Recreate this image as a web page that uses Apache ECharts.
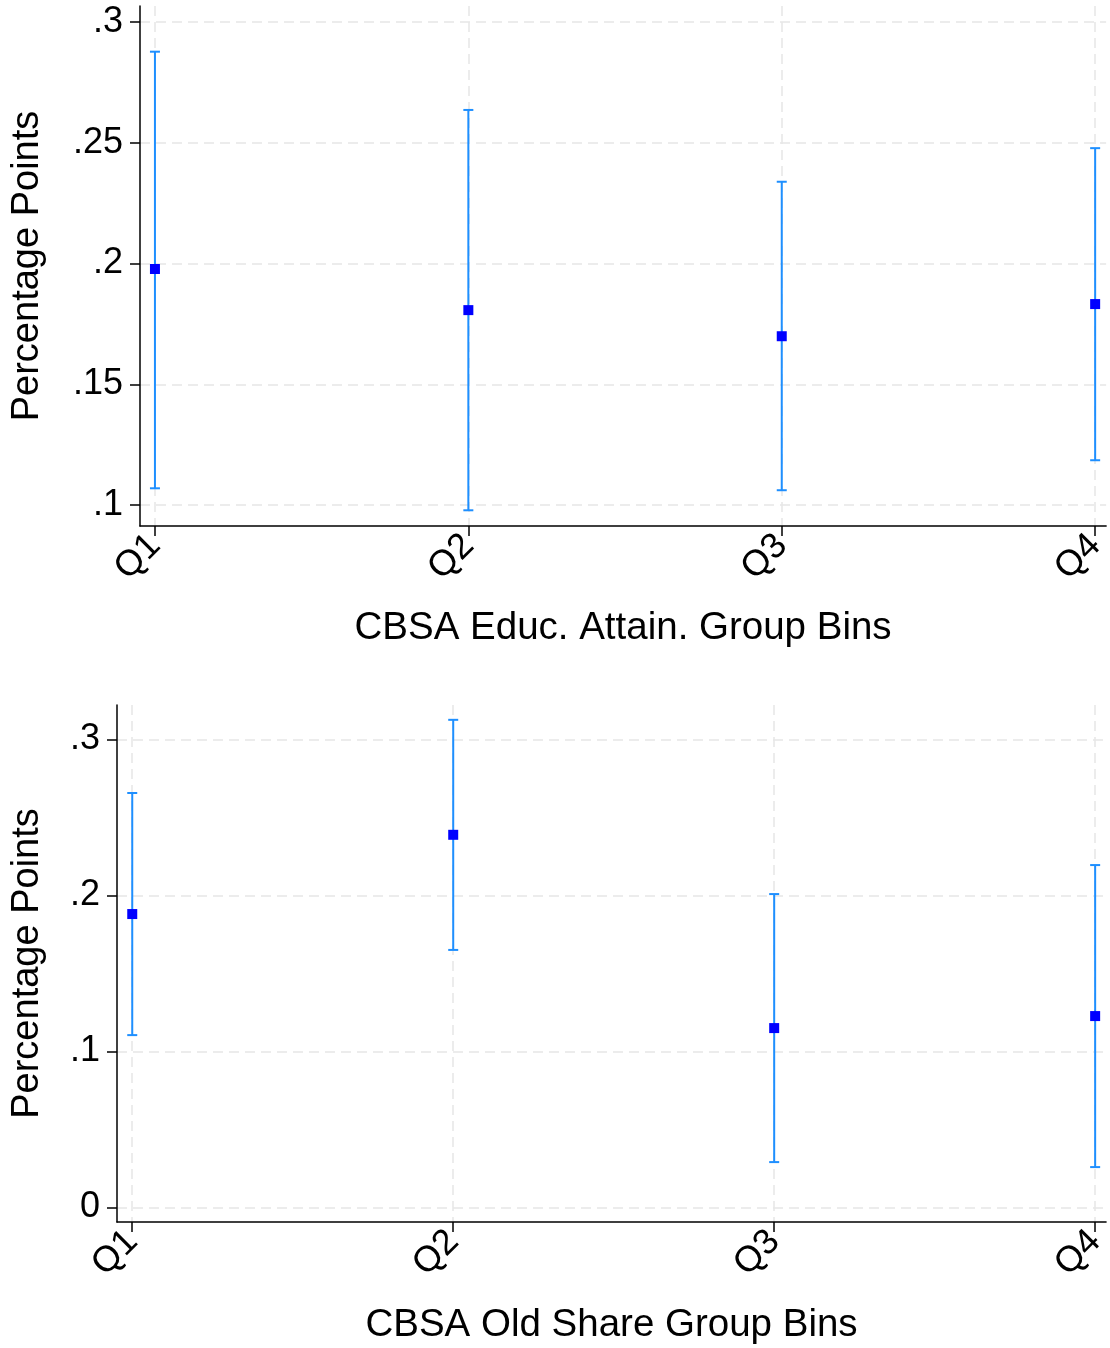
<!DOCTYPE html>
<html><head><meta charset="utf-8">
<script src="https://cdn.jsdelivr.net/npm/echarts@6/dist/echarts.min.js"></script>
<style>html,body{margin:0;padding:0;background:#fff}#c{width:1110px;height:1348px}</style>
</head><body><div id="c"></div>
<script>
var categories = ['Q1','Q2','Q3','Q4'];
// Panel 1: CBSA Educ. Attain. Group Bins
var est1 = [0.1977, 0.1807, 0.1699, 0.1832];
var hi1  = [0.2876, 0.2635, 0.2338, 0.2477];
var lo1  = [0.1070, 0.0979, 0.1062, 0.1186];
var ticks1 = [0.1, 0.15, 0.2, 0.25, 0.3];
var tickLabels1 = ['.1', '.15', '.2', '.25', '.3'];
// Panel 2: CBSA Old Share Group Bins
var est2 = [0.1880, 0.2388, 0.1149, 0.1226];
var hi2  = [0.2656, 0.3125, 0.2008, 0.2194];
var lo2  = [0.1104, 0.1650, 0.0290, 0.0258];
var ticks2 = [0, 0.1, 0.2, 0.3];
var tickLabels2 = ['0', '.1', '.2', '.3'];
var xTitles = ['CBSA Educ. Attain. Group Bins', 'CBSA Old Share Group Bins'];
var yTitle = 'Percentage Points';

var FONT = '"Liberation Sans", Arial, sans-serif';
var gridLine = {show: true, lineStyle: {color: '#e6e6e6', width: 1.5, type: [10, 6]}};

function xAxis(idx, gap, min, max) {
  return {
    type: 'value', gridIndex: idx, min: min, max: max,
    name: xTitles[idx], nameLocation: 'middle', nameGap: gap,
    nameTextStyle: {fontFamily: FONT, fontSize: 38.5, color: '#000'},
    axisLine: {show: true, onZero: false, lineStyle: {color: '#000', width: 1.5}},
    axisTick: {show: true, length: 10, lineStyle: {color: '#000', width: 1.5}, customValues: [1,2,3,4]},
    axisLabel: {customValues: [1,2,3,4], rotate: 45, fontFamily: FONT, fontSize: 36, color: '#000', margin: 14,
      formatter: function (v) { return categories[Math.round(v) - 1]; }},
    splitLine: gridLine
  };
}
function yAxis(idx, min, max, ticks, labels, gap) {
  return {
    type: 'value', gridIndex: idx, min: min, max: max,
    name: yTitle, nameLocation: 'middle', nameGap: gap,
    nameTextStyle: {fontFamily: FONT, fontSize: 38, color: '#000'},
    axisLine: {show: true, onZero: false, lineStyle: {color: '#000', width: 1.5}},
    axisTick: {show: true, length: 10, lineStyle: {color: '#000', width: 1.5}, customValues: ticks},
    axisLabel: {customValues: ticks, fontFamily: FONT, fontSize: 36, color: '#000', margin: 17,
      formatter: function (v) {
        for (var i = 0; i < ticks.length; i++) if (Math.abs(ticks[i] - v) < 1e-9) return labels[i];
        return '';
      }},
    splitLine: gridLine
  };
}
function errData(lo, hi) {
  return categories.map(function (c, i) { return [i + 1, lo[i], hi[i]]; });
}
function ptData(est) {
  return categories.map(function (c, i) { return [i + 1, est[i]]; });
}
function renderErr(params, api) {
  var x = api.value(0);
  var a = api.coord([x, api.value(1)]);
  var b = api.coord([x, api.value(2)]);
  var style = {stroke: '#1e8fff', lineWidth: 2};
  var cw = 5;
  return {type: 'group', children: [
    {type: 'line', shape: {x1: a[0], y1: a[1], x2: b[0], y2: b[1]}, style: style},
    {type: 'line', shape: {x1: a[0] - cw, y1: a[1], x2: a[0] + cw, y2: a[1]}, style: style},
    {type: 'line', shape: {x1: b[0] - cw, y1: b[1], x2: b[0] + cw, y2: b[1]}, style: style}
  ]};
}

var chart = echarts.init(document.getElementById('c'), null, {renderer: 'canvas'});
chart.setOption({
  animation: false,
  backgroundColor: '#fff',
  grid: [
    {left: 140, top: 6, width: 970, height: 520},
    {left: 117, top: 705, width: 993, height: 517}
  ],
  xAxis: [xAxis(0, 83, 0.9523, 4.035), xAxis(1, 84, 0.9525, 4.034)],
  yAxis: [
    yAxis(0, 0.0914, 0.3065, ticks1, tickLabels1, 93),
    yAxis(1, -0.0094, 0.322, ticks2, tickLabels2, 70)
  ],
  series: [
    {type: 'custom', xAxisIndex: 0, yAxisIndex: 0, renderItem: renderErr, data: errData(lo1, hi1), clip: false},
    {type: 'scatter', xAxisIndex: 0, yAxisIndex: 0, symbol: 'rect', symbolSize: 10, itemStyle: {color: '#0000ff', opacity: 1}, data: ptData(est1), z: 5},
    {type: 'custom', xAxisIndex: 1, yAxisIndex: 1, renderItem: renderErr, data: errData(lo2, hi2), clip: false},
    {type: 'scatter', xAxisIndex: 1, yAxisIndex: 1, symbol: 'rect', symbolSize: 10, itemStyle: {color: '#0000ff', opacity: 1}, data: ptData(est2), z: 5}
  ]
});
</script></body></html>
